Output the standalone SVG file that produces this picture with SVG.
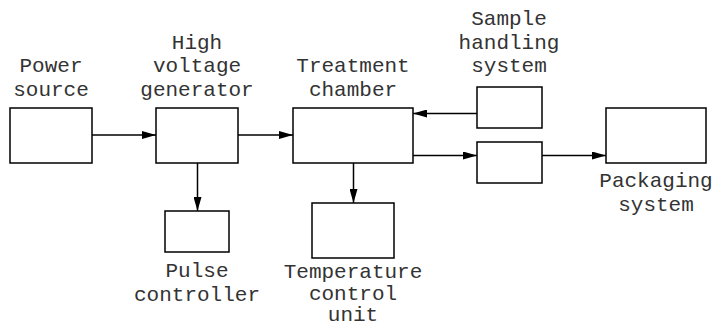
<svg xmlns="http://www.w3.org/2000/svg" width="712" height="328" viewBox="0 0 712 328">
<style>
.box{fill:#fff;stroke:#000;stroke-width:1.5}
.ln{fill:none;stroke:#000;stroke-width:1.5}
text{font-family:"Liberation Mono","Courier New",monospace;font-size:21px;fill:#333;text-anchor:middle}
</style>
<defs>
<marker id="ah" viewBox="0 0 14 8" refX="14" refY="4" markerWidth="14" markerHeight="8" markerUnits="userSpaceOnUse" orient="auto">
<path d="M0,0 L14,4 L0,8 Z" fill="#000"/>
</marker>
</defs>
<rect width="712" height="328" fill="#fff"/>
<g id="connectors">
<line class="ln" x1="92" y1="135" x2="156" y2="135" marker-end="url(#ah)"/>
<line class="ln" x1="238" y1="135" x2="293" y2="135" marker-end="url(#ah)"/>
<line class="ln" x1="477" y1="113.5" x2="413" y2="113.5" marker-end="url(#ah)"/>
<line class="ln" x1="413" y1="155.5" x2="477" y2="155.5" marker-end="url(#ah)"/>
<line class="ln" x1="542" y1="155.5" x2="606" y2="155.5" marker-end="url(#ah)"/>
<line class="ln" x1="197.5" y1="163" x2="197.5" y2="211" marker-end="url(#ah)"/>
<line class="ln" x1="353.5" y1="163" x2="353.5" y2="203" marker-end="url(#ah)"/>
</g>
<g id="power">
<rect class="box" x="10" y="108" width="82" height="55"/>
<text x="51" y="72">Power</text>
<text x="51" y="95.5">source</text>
</g>
<g id="hvgen">
<rect class="box" x="156" y="108" width="82" height="55"/>
<text x="197" y="48.5">High</text>
<text x="197" y="72">voltage</text>
<text x="197" y="95.5">generator</text>
</g>
<g id="chamber">
<rect class="box" x="293" y="108" width="120" height="55"/>
<text x="353" y="72">Treatment</text>
<text x="353" y="95.5">chamber</text>
</g>
<g id="sample">
<rect class="box" x="477" y="87" width="65" height="41"/>
<text x="509" y="25">Sample</text>
<text x="509" y="48.5">handling</text>
<text x="509" y="72">system</text>
</g>
<g id="mid">
<rect class="box" x="477" y="142" width="65" height="41"/>
</g>
<g id="packaging">
<rect class="box" x="606" y="108" width="100" height="55"/>
<text x="656" y="187">Packaging</text>
<text x="656" y="210.5">system</text>
</g>
<g id="pulse">
<rect class="box" x="165" y="211" width="64" height="41"/>
<text x="197" y="277">Pulse</text>
<text x="197" y="300.5">controller</text>
</g>
<g id="temp">
<rect class="box" x="312" y="203" width="82" height="55"/>
<text x="353" y="278">Temperature</text>
<text x="353" y="299.5">control</text>
<text x="353" y="321">unit</text>
</g>
</svg>
